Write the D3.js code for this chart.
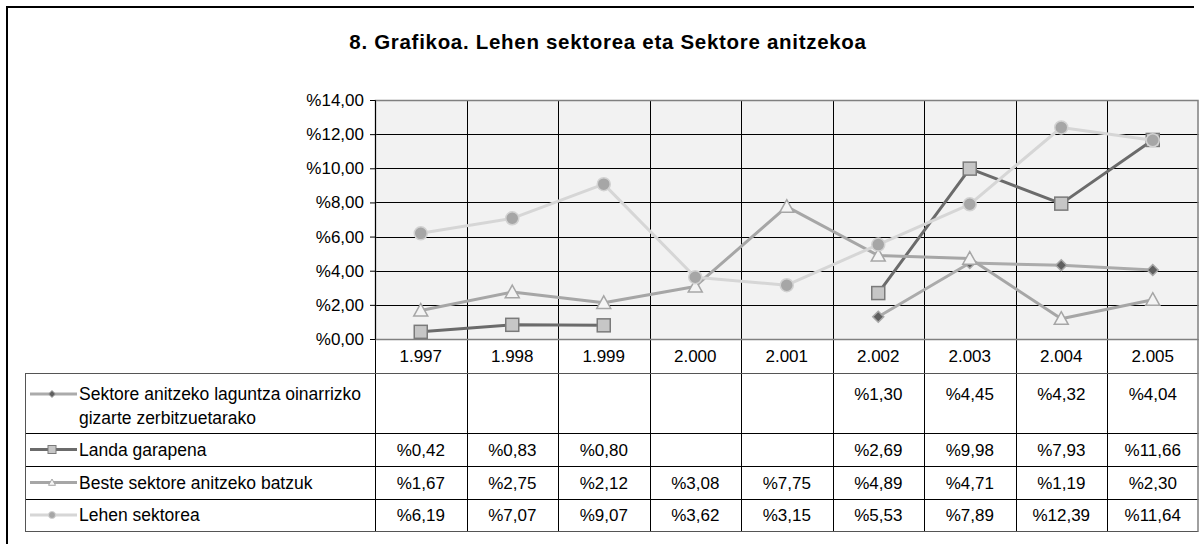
<!DOCTYPE html>
<meta charset="utf-8">
<script src="https://d3js.org/d3.v7.min.js"></script>
<style>
  body { margin: 0; background: #fff; }
  svg { display: block; font-family: Arial, "Liberation Sans", sans-serif; }
</style>
<div id="chart"></div>
<script>

// data
const years = ["1.997", "1.998", "1.999", "2.000", "2.001", "2.002", "2.003", "2.004", "2.005"];
const seriesNames = [
  ["Sektore anitzeko laguntza oinarrizko", "gizarte zerbitzuetarako"],
  ["Landa garapena"],
  ["Beste sektore anitzeko batzuk"],
  ["Lehen sektorea"]
];
const sektoreAnitzeko = [null, null, null, null, null, 1.30, 4.45, 4.32, 4.04];
const landaGarapena   = [0.42, 0.83, 0.80, null, null, 2.69, 9.98, 7.93, 11.66];
const besteSektore    = [1.67, 2.75, 2.12, 3.08, 7.75, 4.89, 4.71, 1.19, 2.30];
const lehenSektorea   = [6.19, 7.07, 9.07, 3.62, 3.15, 5.53, 7.89, 12.39, 11.64];
const yTicks = [0, 2, 4, 6, 8, 10, 12, 14];
const title = "8. Grafikoa. Lehen sektorea eta Sektore anitzekoa";

const allSeries = [sektoreAnitzeko, landaGarapena, besteSektore, lehenSektorea];

// styles per series
const styles = [
  {line: "#ababab", marker: "diamond",  fill: "#606060", stroke: "#a8a8a8"},
  {line: "#6b6b6b", marker: "square",   fill: "#c6c6c6", stroke: "#7a7a7a"},
  {line: "#a6a6a6", marker: "triangle", fill: "#f4f4f4", stroke: "#a6a6a6"},
  {line: "#d6d6d6", marker: "circle",   fill: "#a6a6a6", stroke: "#d2d2d2"}
];

const W = 1203, H = 544;
const plot = {left: 375, right: 1198.5, top: 100, bottom: 339};
const tableLeft = 25;
const rowEdges = [339, 373, 433, 466, 499, 531]; // year row, then 4 series rows

const svg = d3.select("#chart").append("svg")
  .attr("width", W).attr("height", H);

// outer frame (left and top edges visible)
svg.append("path")
  .attr("d", `M7,${H + 5} L7,7 L1194,7`)
  .attr("fill", "none").attr("stroke", "#000").attr("stroke-width", 2);

// title
svg.append("text")
  .attr("x", 608).attr("y", 49)
  .attr("text-anchor", "middle")
  .attr("font-size", 20.5).attr("font-weight", "bold")
  .attr("letter-spacing", 0.7)
  .text(title);

// scales
const x = d3.scaleBand().domain(years).range([plot.left, plot.right]).padding(0);
const cx = d => x(d) + x.bandwidth() / 2;
const y = d3.scaleLinear().domain([0, 14]).range([plot.bottom, plot.top]);

// plot background
svg.append("rect")
  .attr("x", plot.left).attr("y", plot.top)
  .attr("width", plot.right - plot.left).attr("height", plot.bottom - plot.top)
  .attr("fill", "#f2f2f2");

// horizontal gridlines
svg.append("g").selectAll("line").data(yTicks.slice(1, -1)).join("line")
  .attr("x1", plot.left).attr("x2", plot.right)
  .attr("y1", d => Math.round(y(d)) + 0.5).attr("y2", d => Math.round(y(d)) + 0.5)
  .attr("stroke", "#000").attr("stroke-width", 1);

// vertical lines through plot and table
svg.append("g").selectAll("line").data(years.slice(1)).join("line")
  .attr("x1", d => Math.round(x(d)) + 0.5).attr("x2", d => Math.round(x(d)) + 0.5)
  .attr("y1", plot.top).attr("y2", rowEdges[rowEdges.length - 1])
  .attr("stroke", "#000").attr("stroke-width", 1);

// left axis line down through table
svg.append("line")
  .attr("x1", plot.left + 0.5).attr("x2", plot.left + 0.5)
  .attr("y1", plot.top).attr("y2", rowEdges[rowEdges.length - 1])
  .attr("stroke", "#000");

// plot border
svg.append("rect")
  .attr("x", plot.left + 0.5).attr("y", plot.top + 0.5)
  .attr("width", plot.right - plot.left - 1).attr("height", plot.bottom - plot.top)
  .attr("fill", "none").attr("stroke", "#808080").attr("stroke-width", 1.5);

// y axis
const yAxis = svg.append("g")
  .attr("transform", `translate(${plot.left},0)`)
  .call(d3.axisLeft(y).tickValues(yTicks).tickSize(5).tickPadding(6)
    .tickFormat(d => "%" + d.toFixed(2).replace(".", ",")));
yAxis.select(".domain").attr("stroke", "#000");
yAxis.selectAll(".tick line").attr("stroke", "#000");
yAxis.selectAll("text").attr("font-size", 17).attr("fill", "#000")
  .attr("font-family", "Arial, 'Liberation Sans', sans-serif");

// table horizontal lines
svg.append("g").selectAll("line").data(rowEdges.slice(1)).join("line")
  .attr("x1", tableLeft).attr("x2", plot.right)
  .attr("y1", d => d + 0.5).attr("y2", d => d + 0.5)
  .attr("stroke", (d, i) => (i === 0 || i === rowEdges.length - 2) ? "#555" : "#000");
// table left edge and right edge
svg.append("line")
  .attr("x1", tableLeft + 0.5).attr("x2", tableLeft + 0.5)
  .attr("y1", rowEdges[1]).attr("y2", rowEdges[rowEdges.length - 1] + 0.5)
  .attr("stroke", "#555");
svg.append("line")
  .attr("x1", plot.right - 0.5).attr("x2", plot.right - 0.5)
  .attr("y1", plot.bottom).attr("y2", rowEdges[rowEdges.length - 1] + 0.5)
  .attr("stroke", "#808080").attr("stroke-width", 1.5);

// year labels
svg.append("g").selectAll("text").data(years).join("text")
  .attr("x", d => cx(d)).attr("y", (rowEdges[0] + rowEdges[1]) / 2 + 6)
  .attr("text-anchor", "middle").attr("font-size", 17)
  .text(d => d);

// marker drawing
function marker(sel, type, size) {
  const s = size;
  if (type === "circle") {
    sel.append("circle").attr("r", s / 2);
  } else if (type === "square") {
    sel.append("rect").attr("x", -s / 2).attr("y", -s / 2).attr("width", s).attr("height", s);
  } else if (type === "diamond") {
    const h = s / 2;
    sel.append("path").attr("d", `M0,${-h}L${h},0L0,${h}L${-h},0Z`);
  } else if (type === "triangle") {
    const h = s / 2;
    sel.append("path").attr("d", `M0,${-h}L${h},${h * 0.8}L${-h},${h * 0.8}Z`);
  }
}

const markerSize = {circle: 13, square: 13, diamond: 11, triangle: 14};

// lines and markers
const line = d3.line()
  .defined(d => d.v !== null)
  .x(d => cx(d.year)).y(d => y(d.v));

allSeries.forEach((vals, i) => {
  const st = styles[i];
  const pts = years.map((yr, j) => ({year: yr, v: vals[j]}));
  const g = svg.append("g");
  g.append("path").datum(pts)
    .attr("d", line)
    .attr("fill", "none").attr("stroke", st.line).attr("stroke-width", 3)
    .attr("stroke-linejoin", "round");
  g.selectAll("g.m").data(pts.filter(d => d.v !== null)).join("g")
    .attr("class", "m")
    .attr("transform", d => `translate(${cx(d.year)},${y(d.v)})`)
    .each(function() { marker(d3.select(this), st.marker, markerSize[st.marker]); })
    .selectAll("*")
      .attr("fill", st.fill).attr("stroke", st.stroke).attr("stroke-width", 1.5);
});

// table rows: legend keys, names, values
allSeries.forEach((vals, i) => {
  const st = styles[i];
  const top = rowEdges[i + 1], bottom = rowEdges[i + 2];
  const names = seriesNames[i];
  const firstY = names.length > 1 ? top + 27 : (top + bottom) / 2 + 6;
  const keyY = firstY - 6;

  svg.append("line")
    .attr("x1", 30).attr("x2", 77).attr("y1", keyY).attr("y2", keyY)
    .attr("stroke", st.line).attr("stroke-width", 3);
  const km = svg.append("g").attr("transform", `translate(52,${keyY})`);
  marker(km, st.marker, st.marker === "square" ? 8 : 7);
  km.selectAll("*").attr("fill", st.fill).attr("stroke", st.stroke).attr("stroke-width", 1);

  const t = svg.append("text").attr("x", 79).attr("y", firstY).attr("font-size", 17.5);
  names.forEach((n, k) => {
    t.append("tspan").attr("x", 79).attr("dy", k === 0 ? 0 : 24).text(n);
  });

  svg.append("g").selectAll("text").data(years.map((yr, j) => ({year: yr, v: vals[j]})).filter(d => d.v !== null))
    .join("text")
    .attr("x", d => cx(d.year)).attr("y", firstY)
    .attr("text-anchor", "middle").attr("font-size", 17)
    .text(d => "%" + d.v.toFixed(2).replace(".", ","));
});
</script>
